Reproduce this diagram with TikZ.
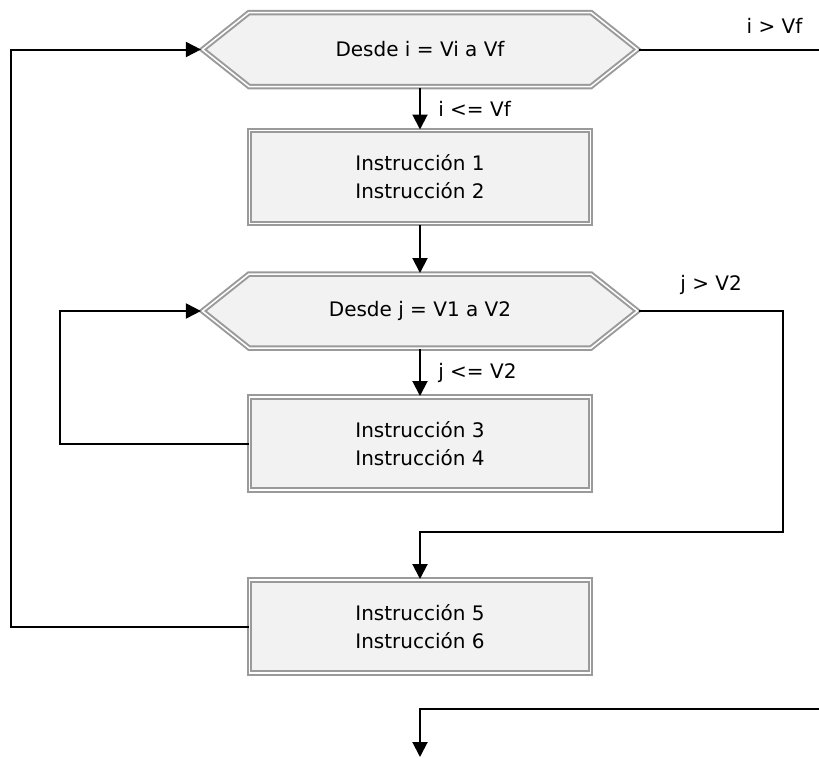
\documentclass[tikz,border=0pt]{standalone}
\usepackage{fontspec}
\setmainfont{DejaVu Sans}
\usepackage{tikz}
\usetikzlibrary{shapes,arrows.meta}
\definecolor{rimgray}{HTML}{9A9A9A}
\definecolor{bodygray}{HTML}{F2F2F2}

\begin{document}
\begin{tikzpicture}[
  font=\fontsize{20bp}{28bp}\selectfont,
  instr/.style={draw=rimgray,fill=bodygray,double=white,double distance=1.5bp,line width=2bp,
    minimum width=341bp,minimum height=93bp,align=center,inner sep=0pt},
  loophead/.style={draw=rimgray,fill=bodygray,double=white,double distance=1.5bp,line width=2bp,
    shape=signal,signal to=west and east,signal pointer angle=77,
    minimum width=435bp,minimum height=74bp,inner sep=0pt},
  flow/.style={line width=2bp,-{Triangle[width=15bp,length=15bp]}},
  cond/.style={right=14bp}
]
\useasboundingbox (0bp,0bp) rectangle (819bp,-758bp);

\node (H1) at (420bp,-49.5bp)[loophead] {Desde i = Vi a Vf};
\node (B1) at (420bp,-177bp)[instr] {Instrucción 1\\Instrucción 2};
\node (H2) at (420bp,-311bp)[loophead] {Desde j = V1 a V2};
\node (B3) at (420bp,-443.5bp)[instr] {Instrucción 3\\Instrucción 4};
\node (B5) at (420bp,-626.5bp)[instr] {Instrucción 5\\Instrucción 6};
\coordinate (out) at (420bp,-757bp);
\draw [flow] (H1.south) -- node[cond] {i <= Vf} (B1.north);
\draw [flow] (B1.south) -- (H2.north);
\draw [flow] (H2.south) -- node[cond] {j <= V2} (B3.north);
\draw [flow] (B3.west) -- ++(-188.5bp,0) |- (H2.west);
\draw [flow] (B5.west) -- ++(-237.5bp,0) |- (H1.west);
\draw [flow] (H2.east) -- node[above=12bp] {j > V2} ++(144bp,0) -- ++(0,-221bp) -| (B5.north);
\draw [flow] (H1.east) -- node[near end,above=12bp] {i > Vf} ++(180.5bp,0) -- ++(0,-659bp) -| (out);
\end{tikzpicture}
\end{document}
